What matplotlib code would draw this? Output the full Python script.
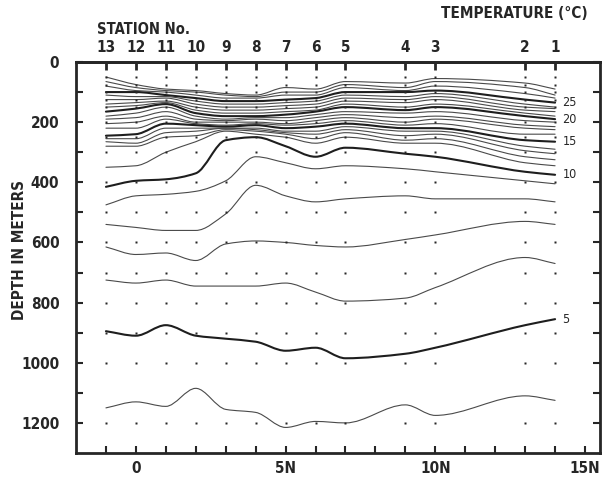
import numpy as np
import matplotlib
matplotlib.use("Agg")
import matplotlib.pyplot as plt
from matplotlib.path import Path
from matplotlib.patches import PathPatch

# stations along the section (latitude, deg N) and their numbers
station_no = [13, 12, 11, 10, 9, 8, 7, 6, 5, 4, 3, 2, 1]
station_lat = [-1, 0, 1, 2, 3, 4, 5, 6, 7, 9, 10, 13, 14]

# standard sampling depths (m)
sample_depths = [50, 75, 100, 125, 150, 200, 250, 300, 400, 500, 600,
                 700, 800, 900, 1000, 1200]

# depth (m) of each isotherm at every station, station 13 -> station 1
d28 = [50, 75, 90, 95, 105, 110, 85, 90, 65, 70, 55, 70, 90]
d27 = [65, 85, 95, 100, 110, 115, 100, 100, 75, 85, 65, 85, 110]
d26 = [80, 95, 100, 110, 120, 120, 110, 110, 85, 95, 80, 105, 120]
d25 = [100, 100, 110, 120, 130, 130, 125, 120, 100, 100, 95, 125, 135]
d24 = [110, 115, 115, 130, 140, 140, 135, 130, 110, 115, 105, 140, 150]
d23 = [125, 125, 120, 140, 150, 150, 145, 140, 120, 125, 115, 150, 155]
d22 = [140, 135, 130, 150, 160, 160, 155, 150, 130, 135, 125, 160, 165]
d21 = [150, 145, 135, 160, 170, 170, 165, 160, 140, 150, 140, 170, 180]
d20 = [165, 155, 140, 170, 180, 180, 175, 165, 150, 160, 150, 180, 190]
d19 = [180, 170, 150, 180, 190, 185, 185, 175, 165, 170, 165, 195, 200]
d18 = [190, 185, 165, 190, 195, 190, 195, 185, 175, 185, 180, 210, 215]
d17 = [205, 200, 180, 200, 200, 200, 205, 195, 185, 200, 190, 220, 225]
d16 = [220, 220, 190, 205, 210, 205, 210, 205, 195, 210, 205, 240, 240]
d15 = [245, 240, 205, 210, 215, 210, 220, 215, 205, 220, 220, 260, 265]
d14 = [255, 255, 220, 220, 220, 220, 230, 230, 215, 230, 230, 280, 290]
d13 = [265, 270, 235, 230, 220, 225, 235, 240, 225, 245, 240, 295, 305]
d12 = [280, 280, 250, 245, 225, 230, 240, 255, 235, 260, 255, 315, 325]
d11 = [350, 345, 300, 265, 230, 240, 250, 270, 250, 270, 270, 335, 345]
d10 = [415, 395, 390, 370, 260, 250, 280, 315, 285, 305, 315, 365, 375]
d9 = [475, 445, 440, 430, 395, 315, 335, 355, 345, 355, 365, 395, 405]
d8 = [540, 550, 560, 560, 505, 410, 445, 465, 455, 445, 455, 455, 465]
d7 = [615, 640, 635, 660, 605, 595, 600, 610, 615, 590, 575, 530, 540]
d6 = [725, 735, 725, 745, 745, 745, 735, 765, 795, 785, 750, 650, 670]
d5 = [895, 910, 875, 910, 920, 930, 960, 950, 985, 970, 950, 875, 855]
d4 = [1150, 1130, 1145, 1085, 1155, 1165, 1215, 1195, 1200, 1140, 1175, 1110, 1125]

temps = [28, 27, 26, 25, 24, 23, 22, 21, 20, 19, 18, 17, 16, 15, 14, 13,
         12, 11, 10, 9, 8, 7, 6, 5, 4]
depth_rows = [d28, d27, d26, d25, d24, d23, d22, d21, d20, d19, d18, d17,
              d16, d15, d14, d13, d12, d11, d10, d9, d8, d7, d6, d5, d4]

label_font = dict(family="DejaVu Sans", stretch="condensed", weight="bold")
ink = "#262626"


def smooth_path(x, y):
    # monotone cubic (PCHIP tangents) through station values as Bezier segments
    x = np.asarray(x, float)
    y = np.asarray(y, float)
    h = np.diff(x)
    delta = np.diff(y) / h
    m = np.zeros(len(x))
    m[0], m[-1] = delta[0], delta[-1]
    for k in range(1, len(x) - 1):
        if delta[k - 1] * delta[k] > 0:
            w1 = 2 * h[k] + h[k - 1]
            w2 = h[k] + 2 * h[k - 1]
            m[k] = (w1 + w2) / (w1 / delta[k - 1] + w2 / delta[k])
    verts = [(x[0], y[0])]
    codes = [Path.MOVETO]
    for i in range(len(x) - 1):
        verts += [(x[i] + h[i] / 3, y[i] + m[i] * h[i] / 3),
                  (x[i + 1] - h[i] / 3, y[i + 1] - m[i + 1] * h[i] / 3),
                  (x[i + 1], y[i + 1])]
        codes += [Path.CURVE4] * 3
    return Path(verts, codes)


fig = plt.figure(figsize=(6.03, 4.83), dpi=100)
ax = fig.add_axes([76 / 603, 30 / 483, 524 / 603, 391 / 483])

# sampling points
for lat in station_lat:
    ax.plot([lat] * len(sample_depths), sample_depths, ls="none",
            marker="s", ms=1.6, color=ink, mec="none")

# isotherms, every 5 degC drawn heavier
for t, depths in zip(temps, depth_rows):
    bold = t % 5 == 0
    patch = PathPatch(smooth_path(station_lat, depths), fill=False,
                      lw=1.5 if bold else 0.8,
                      edgecolor="#1e1e1e" if bold else "#4a4a4a",
                      capstyle="round", joinstyle="round")
    ax.add_patch(patch)
    if bold:
        ax.text(14.25, depths[-1], str(t), fontsize=9, va="center",
                ha="left", color=ink, family="DejaVu Sans",
                stretch="condensed")

ax.set_xlim(-2, 15.5)
ax.set_ylim(1300, 0)

ax.set_xticks(range(-1, 16))
ax.set_xticklabels(["0" if v == 0 else (f"{v}N" if v % 5 == 0 else "")
                    for v in range(-1, 16)])
ax.set_yticks(range(0, 1300, 100))
ax.set_yticklabels([str(v) if v % 200 == 0 else "" for v in range(0, 1300, 100)])
ax.tick_params(axis="both", direction="in", length=5, width=1.5,
               colors=ink, labelsize=11, right=True)
ax.tick_params(axis="x", pad=6)
ax.tick_params(axis="y", pad=12)
for lab in ax.get_xticklabels() + ax.get_yticklabels():
    lab.set(**label_font)

top = ax.secondary_xaxis("top")
top.set_xticks(station_lat)
top.set_xticklabels([str(n) for n in station_no])
top.tick_params(direction="in", length=6, width=2, colors=ink,
                labelsize=11, pad=5)
for lab in top.get_xticklabels():
    lab.set(**label_font)

for sp in list(ax.spines.values()) + list(top.spines.values()):
    sp.set_linewidth(2)
    sp.set_color(ink)

fig.text(20 / 603, 1 - 250 / 483, "DEPTH IN METERS", rotation=90,
         ha="center", va="center", fontsize=11, color=ink, **label_font)
fig.text(97 / 603, 1 - 30 / 483, "STATION No.", ha="left", va="center",
         fontsize=10.5, color=ink, **label_font)
fig.text(588 / 603, 1 - 14 / 483, "TEMPERATURE (\u00b0C)", ha="right",
         va="center", fontsize=11, color=ink, **label_font)

fig.savefig("out.png", dpi=100, facecolor="white")
